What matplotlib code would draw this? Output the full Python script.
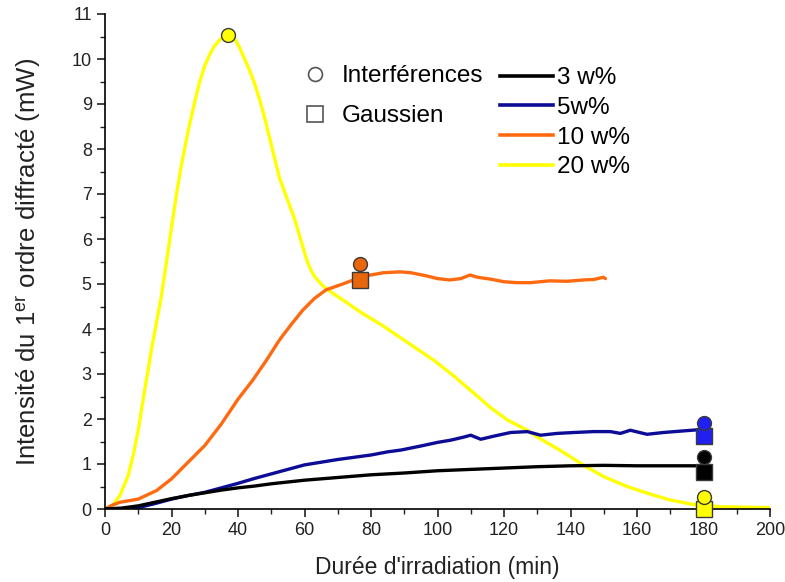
import matplotlib
matplotlib.use("Agg")
import matplotlib.pyplot as plt
from matplotlib.lines import Line2D
from matplotlib.ticker import MultipleLocator

plt.rcParams['font.family'] = ['Liberation Sans', 'DejaVu Sans']
plt.rcParams['mathtext.fontset'] = 'custom'
plt.rcParams['mathtext.rm'] = 'Liberation Sans'
plt.rcParams['mathtext.it'] = 'Liberation Sans:italic'

# ---- data ----
t_3 = [0, 5, 10, 15, 20, 25, 30, 35, 40, 45, 50, 60, 70, 80, 90, 100, 110, 120, 130, 140, 150, 160, 170, 180]
v_3 = [0, 0.02, 0.07, 0.15, 0.23, 0.30, 0.36, 0.42, 0.47, 0.51, 0.56, 0.64, 0.70, 0.76, 0.80, 0.85, 0.88, 0.91, 0.94, 0.96, 0.97, 0.96, 0.96, 0.96]

t_5 = [0, 5, 10, 15, 20, 25, 30, 35, 40, 45, 50, 55, 60, 65, 70, 75, 80, 85, 89, 95, 100, 104, 108, 110, 113, 117, 122, 127, 131, 136, 141, 147, 152, 155, 158, 163, 168, 173, 180]
v_5 = [0, 0.0, 0.03, 0.12, 0.22, 0.30, 0.37, 0.47, 0.57, 0.68, 0.78, 0.88, 0.98, 1.04, 1.10, 1.15, 1.20, 1.27, 1.31, 1.40, 1.48, 1.53, 1.60, 1.64, 1.55, 1.62, 1.70, 1.72, 1.64, 1.68, 1.70, 1.72, 1.72, 1.68, 1.75, 1.66, 1.70, 1.73, 1.77]

t_10 = [0, 2, 4.5, 10, 15.5, 20, 25, 30, 35, 40, 44.5, 48.5, 52.5, 56, 59.5, 63, 66.5, 71.5, 77.6, 83.7, 88.7, 92, 96.7, 100, 103.7, 107, 109.8, 112, 115.8, 120, 123.8, 128, 133.8, 139, 143.9, 147, 149.9, 150.5]
v_10 = [0, 0.08, 0.15, 0.22, 0.41, 0.67, 1.04, 1.41, 1.89, 2.44, 2.87, 3.30, 3.76, 4.10, 4.42, 4.68, 4.87, 5.00, 5.17, 5.25, 5.27, 5.25, 5.18, 5.12, 5.09, 5.12, 5.20, 5.15, 5.11, 5.05, 5.03, 5.03, 5.07, 5.06, 5.09, 5.10, 5.15, 5.12]

t_20 = [0, 2, 4.5, 7, 8.5, 10, 11.5, 13, 14, 15.5, 17, 18, 19, 20, 21.5, 23, 25, 27, 28.5, 30, 31.5, 33, 34.5, 36, 37, 38, 39, 40.5, 42, 43.5, 45, 46.5, 48, 50, 52.5, 55, 57, 59, 60, 61, 62, 63, 64.5, 66, 68, 70, 74, 78, 83, 88, 93, 99, 105, 111, 116, 121, 127, 130, 137, 144, 150, 157, 164, 170, 177, 185, 200]
v_20 = [0, 0.05, 0.30, 0.75, 1.20, 1.75, 2.45, 3.10, 3.56, 4.15, 4.75, 5.25, 5.75, 6.25, 7.00, 7.65, 8.40, 9.05, 9.50, 9.85, 10.10, 10.30, 10.42, 10.52, 10.55, 10.52, 10.45, 10.25, 10.00, 9.75, 9.45, 9.10, 8.70, 8.10, 7.35, 6.85, 6.45, 5.95, 5.70, 5.47, 5.30, 5.17, 5.04, 4.93, 4.82, 4.72, 4.52, 4.32, 4.10, 3.85, 3.60, 3.30, 2.95, 2.57, 2.25, 1.98, 1.75, 1.60, 1.30, 0.97, 0.72, 0.50, 0.33, 0.20, 0.10, 0.05, 0.03]

# measured points: Interférences (circles) and Gaussien (squares)
interf_t = [37, 76.7, 180, 180, 180]
interf_v = [10.54, 5.44, 1.92, 1.15, 0.27]
interf_c = ['#ffff00', '#e8660c', '#2020f0', '#000000', '#ffff00']
gauss_t = [76.7, 180, 180, 180]
gauss_v = [5.10, 1.62, 0.83, 0.0]
gauss_c = ['#e8660c', '#2020f0', '#000000', '#ffff00']

labels = ['3 w%', '5w%', '10 w%', '20 w%']
colors = ['#000000', '#0c0c96', '#ff6a10', '#ffff00']

fig = plt.figure(figsize=(7.85, 5.82), dpi=100)
ax = fig.add_axes([105/785, 1 - 509/582, (770-105)/785, (509-14)/582])

series = [(t_3, v_3), (t_5, v_5), (t_10, v_10), (t_20, v_20)]
order = [3, 2, 1, 0]
for i in order:
    t, v = series[i]
    ax.plot(t, v, color=colors[i], lw=2.4, solid_capstyle='round', solid_joinstyle='round',
            zorder=2 + (3 - i) * 0.1)

for t, v, c in zip(gauss_t, gauss_v, gauss_c):
    ax.plot([t], [v], marker='s', ms=11, mfc=c, mec='#3a3a3a', mew=1.0, ls='none', zorder=5, clip_on=False)
for t, v, c in zip(interf_t, interf_v, interf_c):
    ax.plot([t], [v], marker='o', ms=10, mfc=c, mec='#3a3a3a', mew=1.0, ls='none', zorder=6, clip_on=False)

ax.set_xlim(0, 200)
ax.set_ylim(0, 11)
ax.xaxis.set_major_locator(MultipleLocator(20))
ax.xaxis.set_minor_locator(MultipleLocator(10))
ax.yaxis.set_major_locator(MultipleLocator(1))
ax.yaxis.set_minor_locator(MultipleLocator(0.5))
for s in ['top', 'right']:
    ax.spines[s].set_visible(False)
for s in ['left', 'bottom']:
    ax.spines[s].set_linewidth(1.2)
ax.tick_params(which='major', direction='out', length=6, width=1.2, labelsize=13, colors='#222222')
ax.tick_params(which='minor', direction='out', length=3.5, width=1.0, colors='#222222')

ax.set_xlabel("Durée d'irradiation (min)", fontsize=16.5, color='#222222', labelpad=12)
ax.set_ylabel(r"Intensité du 1$^{\mathrm{er}}$ ordre diffracté (mW)", fontsize=18.5, color='#222222', labelpad=20)

h1 = [Line2D([], [], marker='o', ls='none', ms=10, mfc='white', mec='#555555', mew=1.2),
      Line2D([], [], marker='s', ls='none', ms=11, mfc='white', mec='#555555', mew=1.2)]
leg1 = ax.legend(h1, ['Interférences', 'Gaussien'], loc='upper left',
                 bbox_to_anchor=(303/785, 1 - 65/582), bbox_transform=fig.transFigure,
                 frameon=False, fontsize=17.5, handlelength=1.0, handletextpad=0.6,
                 labelspacing=0.75, borderpad=0, borderaxespad=0)
ax.add_artist(leg1)
h2 = [Line2D([], [], color=c, lw=2.6) for c in colors]
ax.legend(h2, labels, loc='upper left',
          bbox_to_anchor=(500/785, 1 - 67/582), bbox_transform=fig.transFigure,
          frameon=False, fontsize=17.5, handlelength=2.2, handletextpad=0.15,
          labelspacing=0.32, borderpad=0, borderaxespad=0)

fig.savefig('out.png', dpi=100, facecolor='white')
